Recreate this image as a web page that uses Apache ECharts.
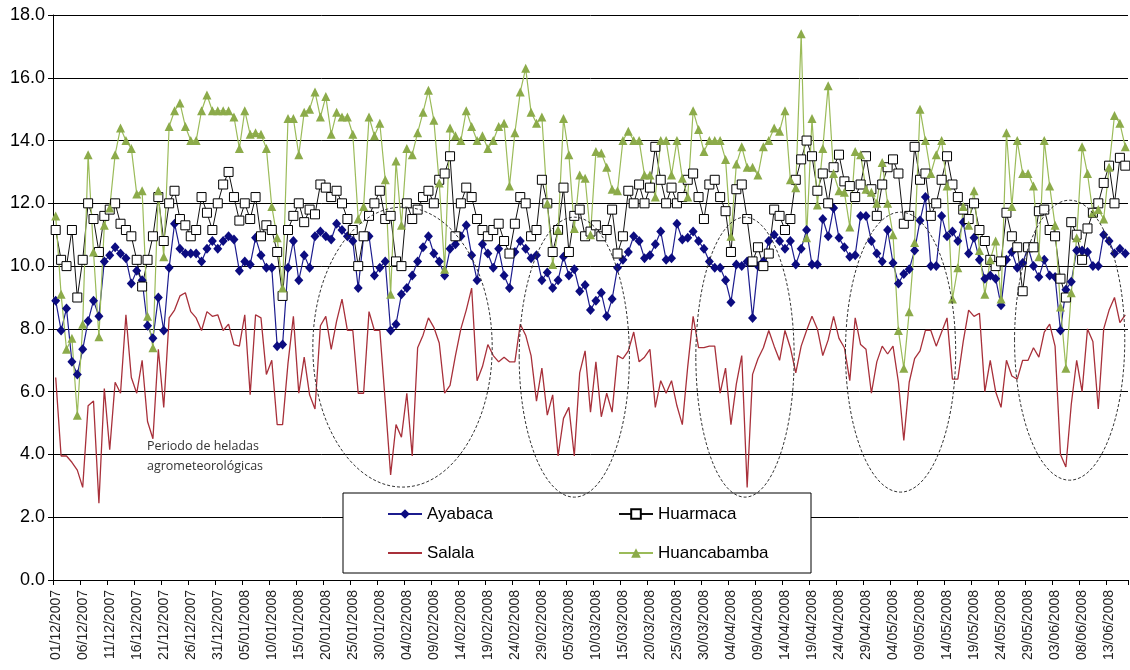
<!DOCTYPE html>
<html><head><meta charset="utf-8">
<script src="https://cdn.jsdelivr.net/npm/echarts@6/dist/echarts.min.js"></script>
<style>html,body{margin:0;padding:0;background:#fff}#c{width:1130px;height:670px}</style>
</head><body><div id="c"></div>
<script>
// ---- categories: daily dates from 01/12/2007, 199 days ----
const startDate = [2007, 11, 1]; // year, month index (0-based), day
const dayCount = 199;
const dates = [];
for (let i = 0; i < dayCount; i++) {
  const d = new Date(Date.UTC(startDate[0], startDate[1], startDate[2] + i));
  const dd = String(d.getUTCDate()).padStart(2, '0');
  const mm = String(d.getUTCMonth() + 1).padStart(2, '0');
  dates.push(dd + '/' + mm + '/' + d.getUTCFullYear());
}

// ---- series values (°C) ----
const ayabaca = [
 8.9,7.95,8.65,6.95,6.55,7.35,8.25,8.9,8.4,10.15,
 10.35,10.6,10.4,10.25,9.45,9.85,9.55,8.1,7.7,9.0,
 7.95,9.95,11.35,10.55,10.4,10.4,10.4,10.15,10.55,10.8,
 10.55,10.8,10.95,10.85,9.85,10.15,10.05,10.9,10.35,9.95,
 9.95,7.45,7.5,9.95,10.8,9.55,10.35,9.95,10.95,11.1,
 10.95,10.85,11.35,11.15,10.95,10.8,9.3,10.95,10.95,9.7,
 9.95,10.15,7.95,8.15,9.1,9.3,9.7,10.15,10.6,10.95,
 10.4,10.15,9.7,10.55,10.7,10.95,11.3,10.35,9.55,10.7,
 10.4,9.95,10.55,9.7,9.3,10.45,10.8,10.55,10.25,10.35,
 9.55,9.8,9.3,9.55,10.3,9.7,9.9,9.2,9.4,8.6,
 8.9,9.15,8.4,8.95,9.95,10.2,10.45,10.95,10.8,10.25,
 10.35,10.7,11.1,10.2,10.25,11.35,10.85,10.9,11.1,10.8,
 10.55,10.15,9.95,9.95,9.55,8.85,10.05,10.0,10.15,8.35,
 10.0,10.15,10.8,11.0,10.8,10.55,10.8,10.05,10.55,11.15,
 10.05,10.05,11.5,10.95,11.85,10.9,10.6,10.3,10.35,11.6,
 11.6,10.8,10.4,10.15,11.15,10.1,9.45,9.75,9.9,10.5,
 11.45,12.2,10.0,10.0,11.6,10.95,11.1,10.8,11.4,10.4,
 10.9,10.2,9.6,9.7,9.6,8.75,10.2,10.45,9.95,10.1,
 10.6,10.0,9.65,10.2,9.7,9.65,7.95,9.25,9.5,10.5,
 10.5,10.45,10.0,10.0,11.0,10.8,10.4,10.55,10.4
];
const huarmaca = [
 11.15,10.2,10.0,11.15,9.0,10.2,12.0,11.5,10.45,11.6,
 11.8,12.0,11.35,11.15,10.95,10.2,9.35,10.2,10.95,12.2,
 10.8,12.0,12.4,11.5,11.3,10.95,11.15,12.2,11.7,11.15,
 12.0,12.6,13.0,12.2,11.45,12.0,11.5,12.2,10.95,11.3,
 11.15,10.45,9.05,11.15,11.6,12.0,11.4,11.8,11.65,12.6,
 12.5,12.2,12.4,12.0,11.5,11.15,10.0,10.95,11.6,12.0,
 12.4,11.5,11.6,10.15,10.0,12.0,11.5,11.8,12.2,12.4,
 12.0,12.75,12.95,13.5,10.95,12.0,12.5,12.2,11.5,11.15,
 10.95,11.15,11.35,10.8,10.4,11.35,12.2,12.0,10.95,11.15,
 12.75,12.0,10.45,11.15,12.5,10.45,11.6,11.8,10.95,11.1,
 11.3,10.95,11.15,11.8,10.4,10.95,12.4,12.0,12.6,12.0,
 12.5,13.8,12.75,12.0,12.5,12.0,12.2,12.75,12.95,12.2,
 11.5,12.6,12.75,12.2,11.75,10.45,12.45,12.6,11.5,10.15,
 10.6,10.0,10.4,11.8,11.6,11.15,11.5,12.75,13.4,14.0,
 13.5,12.4,12.95,12.0,13.15,13.55,12.7,12.55,12.2,12.6,
 13.5,12.45,11.6,12.6,13.15,13.4,12.95,11.35,11.6,13.8,
 12.75,12.95,11.6,12.0,12.75,13.5,12.6,12.2,11.8,11.5,
 12.0,11.15,10.8,10.2,10.0,10.15,11.7,10.95,10.6,9.2,
 10.6,10.6,11.75,11.8,11.15,10.95,9.6,9.0,11.4,11.0,
 10.2,11.2,11.7,12.0,12.65,13.2,12.0,13.45,13.2
];
const salala = [
 6.45,3.95,3.95,3.75,3.5,2.95,5.55,5.7,2.45,6.1,
 4.15,6.3,5.95,8.45,6.45,5.95,7.0,5.05,4.5,7.35,
 5.5,8.35,8.6,9.05,9.15,8.55,8.35,7.95,8.55,8.4,
 8.45,7.95,8.15,7.5,7.45,8.45,5.9,8.45,8.35,6.55,
 7.0,4.95,4.95,6.9,8.4,5.95,7.1,5.9,5.45,8.1,
 8.4,7.35,8.25,8.95,7.95,7.95,5.95,5.95,8.55,7.95,
 7.95,5.7,3.35,4.95,4.55,5.95,3.95,7.4,7.8,8.35,
 8.05,7.55,5.95,6.2,7.15,8.0,8.6,9.3,6.35,6.8,
 7.5,7.15,6.95,7.1,6.95,6.95,8.15,7.8,7.15,5.7,
 6.75,5.25,5.9,3.95,5.15,5.5,3.95,6.6,7.3,5.35,
 6.95,5.2,5.95,5.35,7.15,7.05,7.3,7.9,6.95,7.1,
 7.35,5.5,6.35,5.95,6.35,5.55,4.95,6.8,8.4,7.4,
 7.4,7.45,7.45,5.95,6.75,4.95,6.25,7.15,2.95,6.55,
 7.05,7.4,7.95,7.45,7.0,7.95,7.4,6.6,7.45,7.95,
 8.4,8.0,7.15,7.65,8.4,7.7,7.4,6.35,8.35,7.5,
 7.35,5.95,6.95,7.45,7.2,7.45,6.3,4.45,6.3,7.05,
 7.3,7.95,7.95,7.45,7.9,8.35,6.4,6.4,7.6,8.6,
 8.4,8.5,6.0,7.0,6.0,5.5,7.0,6.5,6.4,7.0,
 7.0,7.4,7.1,7.9,8.15,7.45,4.0,3.6,5.6,7.0,
 6.0,8.0,7.6,5.45,8.0,8.6,9.0,8.2,8.45
];
const huancabamba = [
 11.6,9.1,7.35,7.7,5.25,8.15,13.55,10.45,7.75,11.3,
 11.85,13.55,14.4,14.0,13.75,12.3,12.4,8.4,7.4,12.4,
 10.3,14.45,14.95,15.2,14.45,14.0,14.0,14.95,15.45,14.95,
 14.95,14.95,14.95,14.75,13.75,14.95,14.2,14.25,14.2,13.75,
 11.9,10.9,9.3,14.7,14.7,13.55,14.9,15.0,15.55,14.75,
 15.4,14.2,14.9,14.75,14.75,14.2,11.5,11.9,14.75,14.15,
 14.55,12.75,9.1,13.35,11.3,13.75,13.55,14.25,14.9,15.6,
 14.65,12.65,9.9,14.4,14.15,14.0,14.95,14.45,14.0,14.15,
 13.75,14.0,14.45,14.55,12.55,14.25,15.55,16.3,14.9,14.55,
 14.75,12.0,10.05,11.15,14.7,13.55,11.2,12.9,12.8,11.0,
 13.65,13.6,13.15,12.45,12.4,14.0,14.3,14.0,14.0,12.9,
 12.9,12.2,14.0,14.0,12.9,14.0,12.8,12.2,14.95,14.35,
 13.65,14.0,14.0,14.0,13.4,10.95,13.25,13.8,13.15,13.15,
 12.9,13.8,14.0,14.4,14.3,14.95,12.75,12.5,17.4,10.9,
 14.7,11.95,13.75,15.75,12.95,12.4,12.35,11.25,13.65,13.55,
 12.45,12.35,12.0,13.3,12.0,11.0,7.95,6.75,8.55,10.75,
 15.0,14.0,12.95,13.55,14.0,12.55,8.95,9.95,11.9,11.3,
 12.4,10.5,9.1,10.2,10.8,8.95,14.25,11.9,14.0,12.95,
 12.95,12.55,10.3,14.0,12.55,11.3,8.7,6.75,9.15,10.9,
 13.8,12.95,11.7,11.8,11.5,13.15,14.8,14.55,13.8
];

// ---- axis ticks ----
const yMin = 0, yMax = 18, yStep = 2;
const labelEvery = 5; // one date label every 5 days

// ---- annotations (in data units: day index, value, half-width in days, half-height in °C) ----
const frostEllipses = [
  [64.2, 7.42, 16.6, 4.46],
  [96.0, 7.10, 10.2, 4.46],
  [127.6, 7.10, 9.1, 4.46],
  [156.4, 7.26, 10.2, 4.46],
  [187.7, 7.64, 10.2, 4.46]
];
const noteLines = ['Periodo de heladas', 'agrometeorológicas'];
const notePos = [16.9, 4.25]; // day index, value

const FONT = '"Liberation Sans", Arial, sans-serif';
const chart = echarts.init(document.getElementById('c'));

const legendText = {fontSize: 17, fontFamily: FONT, color: '#000', lineHeight: 20};
const option = {
  animation: false,
  backgroundColor: '#fff',
  grid: {left: 53, right: 2, top: 15, bottom: 90, containLabel: false},
  xAxis: {
    type: 'category', data: dates, boundaryGap: true,
    axisLine: {lineStyle: {color: '#000', width: 1}},
    axisTick: {show: true, interval: labelEvery - 1, length: 5, lineStyle: {color: '#000'}},
    axisLabel: {interval: labelEvery - 1, rotate: 90, fontSize: 14, color: '#222', fontFamily: FONT, margin: 10},
    splitLine: {show: false}
  },
  yAxis: {
    type: 'value', min: yMin, max: yMax, interval: yStep,
    axisLine: {show: true, lineStyle: {color: '#000', width: 1}},
    axisTick: {show: true, length: 5, lineStyle: {color: '#000'}},
    axisLabel: {formatter: v => v.toFixed(1), fontSize: 18, color: '#000', fontFamily: FONT, margin: 8},
    splitLine: {show: true, lineStyle: {color: '#000', width: 1}}
  },
  legend: [
    {data: ['Ayabaca', {name: 'Salala', itemStyle: {opacity: 0}}], orient: 'vertical', left: 382, top: 499,
     itemWidth: 34, itemHeight: 12, itemGap: 19, padding: 5, textStyle: legendText, z: 8, selectedMode: false},
    {data: ['Huarmaca', 'Huancabamba'], orient: 'vertical', left: 613, top: 499, itemWidth: 34, itemHeight: 12,
     itemGap: 19, padding: 5, textStyle: legendText, z: 8, selectedMode: false}
  ],
  series: [
    {name: 'Ayabaca', type: 'line', data: ayabaca, symbol: 'diamond', symbolSize: [9, 10], showAllSymbol: true,
     itemStyle: {color: '#0c0c80'}, lineStyle: {color: '#1c1c8e', width: 1.2}, z: 3},
    {name: 'Huarmaca', type: 'line', data: huarmaca, symbol: 'rect', symbolSize: 9, showAllSymbol: true,
     itemStyle: {color: '#fff', borderColor: '#000', borderWidth: 1}, lineStyle: {color: '#111', width: 1}, z: 3},
    {name: 'Salala', type: 'line', data: salala, symbol: 'none',
     lineStyle: {color: '#a8303a', width: 1.3}, itemStyle: {color: '#a8303a'}, z: 3},
    {name: 'Huancabamba', type: 'line', data: huancabamba, symbol: 'triangle', symbolSize: 9, showAllSymbol: true,
     itemStyle: {color: '#8cab4a'}, lineStyle: {color: '#9bbb59', width: 1.2}, z: 3}
  ]
};
chart.setOption(option);

// annotation graphics placed through the chart's own scales
const p0 = chart.convertToPixel({gridIndex: 0}, [0, 0]);
const p1 = chart.convertToPixel({gridIndex: 0}, [1, 1]);
const dx = p1[0] - p0[0];          // pixels per day
const dy = p0[1] - p1[1];          // pixels per °C
const toPx = (day, val) => [p0[0] + day * dx, p0[1] - val * dy];

const graphics = frostEllipses.map(([cd, cv, hd, hv]) => {
  const c = toPx(cd, cv);
  return {type: 'ellipse', silent: true, z: 6,
    shape: {cx: c[0], cy: c[1], rx: hd * dx, ry: hv * dy},
    style: {fill: 'none', stroke: '#333', lineWidth: 1, lineDash: [3, 2]}};
});
const np = toPx(notePos[0], notePos[1]);
graphics.push({type: 'text', silent: true, z: 6, x: np[0], y: np[1] - 10,
  style: {text: noteLines.join('\n'), fill: '#333', font: '12.5px "Open Sans", sans-serif', lineHeight: 20,
          verticalAlign: 'top', align: 'left'}});
// legend frame
graphics.push({type: 'rect', z: 5, silent: true, x: 343, y: 493,
  shape: {width: 468, height: 80}, style: {fill: '#fff', stroke: '#000', lineWidth: 1}});
chart.setOption({graphic: graphics});
</script>
</body></html>
